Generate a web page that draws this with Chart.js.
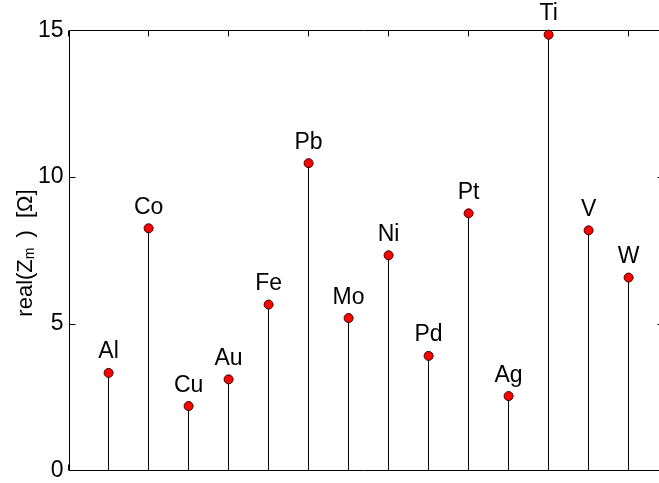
<!DOCTYPE html>
<html>
<head>
<meta charset="utf-8">
<script src="https://cdn.jsdelivr.net/npm/chart.js@4/dist/chart.umd.min.js"></script>
<style>
  html, body { margin: 0; padding: 0; background: #ffffff; overflow: hidden; }
  canvas { display: block; }
</style>
</head>
<body>
<canvas id="c" width="659" height="483"></canvas>
<script>
// Metals and the real part of the measured impedance (ohm)
const metals = ['Al', 'Co', 'Cu', 'Au', 'Fe', 'Pb', 'Mo', 'Ni', 'Pd', 'Pt', 'Ag', 'Ti', 'V', 'W'];
const realZm = [3.32, 8.25, 2.19, 3.10, 5.65, 10.47, 5.19, 7.33, 3.90, 8.76, 2.53, 14.85, 8.18, 6.57];

// Axis ticks
const yTickValues = [0, 5, 10, 15];
const xTickValues = [0, 2, 4, 6, 8, 10, 12, 14];
const xLimits = [0, 14.85];
const yLimits = [0, 15];

const FONT = "'Liberation Sans', Arial, Helvetica, sans-serif";
const TICK_LEN = 6;
// axes box in canvas pixels; its right edge runs just past the canvas
const AXES_BOX = { left: 68.6, top: 30.3, right: 662.6, bottom: 470.3 };

const stemPlot = {
  id: 'stemPlot',
  afterLayout(chart) {
    const b = AXES_BOX;
    const w = b.right - b.left, h = b.bottom - b.top;
    chart.chartArea = { left: b.left, top: b.top, right: b.right, bottom: b.bottom, width: w, height: h };
    const xs = chart.scales.x, ys = chart.scales.y;
    Object.assign(xs, { left: b.left, right: b.right, width: w, top: b.bottom, bottom: b.bottom, height: 0 });
    Object.assign(ys, { left: 0, right: b.left, width: b.left, top: b.top, bottom: b.bottom, height: h });
    xs.configure();
    ys.configure();
  },
  beforeDatasetsDraw(chart) {
    const ctx = chart.ctx;
    const xs = chart.scales.x, ys = chart.scales.y;
    const a = chart.chartArea;
    const L = Math.round(a.left) + 0.5, R = Math.round(a.right) + 0.5;
    const T = Math.round(a.top) + 0.5, B = Math.round(a.bottom) + 0.5;
    ctx.save();
    ctx.strokeStyle = '#000';
    ctx.lineWidth = 1;
    ctx.beginPath();
    // axes box
    ctx.moveTo(L, T); ctx.lineTo(R, T); ctx.lineTo(R, B); ctx.lineTo(L, B); ctx.closePath();
    // y ticks, inward on both sides
    yTickValues.forEach(v => {
      const y = Math.round(ys.getPixelForValue(v)) + 0.5;
      ctx.moveTo(L, y); ctx.lineTo(L + TICK_LEN, y);
      ctx.moveTo(R, y); ctx.lineTo(R - TICK_LEN, y);
    });
    // x ticks, inward on top and bottom
    xTickValues.forEach(v => {
      const x = Math.floor(xs.getPixelForValue(v)) + 0.5;
      ctx.moveTo(x, T); ctx.lineTo(x, T + TICK_LEN);
      ctx.moveTo(x, B); ctx.lineTo(x, B - TICK_LEN);
    });
    // stems
    const y0 = ys.getPixelForValue(0);
    realZm.forEach((v, i) => {
      const x = Math.floor(xs.getPixelForValue(i + 1)) + 0.5;
      ctx.moveTo(x, y0);
      ctx.lineTo(x, ys.getPixelForValue(v));
    });
    ctx.stroke();
    ctx.restore();
  },
  afterDatasetsDraw(chart) {
    const ctx = chart.ctx;
    const xs = chart.scales.x, ys = chart.scales.y;
    ctx.save();
    ctx.fillStyle = '#000';
    ctx.font = '23px ' + FONT;
    ctx.textAlign = 'center';
    ctx.textBaseline = 'alphabetic';
    metals.forEach((m, i) => {
      const x = xs.getPixelForValue(i + 1);
      const y = ys.getPixelForValue(realZm[i]);
      ctx.fillText(m, x, y - 14.5);
    });
    ctx.restore();
  },
  afterDraw(chart) {
    // y axis title: real(Z_m) [Ω]
    const ctx = chart.ctx;
    const parts = [
      { t: 'real(Z', size: 22, dy: 0, gapAfter: 0 },
      { t: 'm', size: 14, dy: 1.5, gapAfter: 10 },
      { t: ')  [\u03A9]', size: 22, dy: 0, gapAfter: 0 }
    ];
    ctx.save();
    let total = 0;
    parts.forEach(p => {
      ctx.font = p.size + 'px ' + FONT;
      p.w = ctx.measureText(p.t).width;
      total += p.w + p.gapAfter;
    });
    ctx.translate(32, 253);
    ctx.rotate(-Math.PI / 2);
    ctx.fillStyle = '#000';
    ctx.textAlign = 'left';
    ctx.textBaseline = 'alphabetic';
    let x = -total / 2;
    parts.forEach(p => {
      ctx.font = p.size + 'px ' + FONT;
      ctx.fillText(p.t, x, p.dy);
      x += p.w + p.gapAfter;
    });
    ctx.restore();
  }
};

new Chart(document.getElementById('c'), {
  type: 'scatter',
  data: {
    datasets: [{
      data: metals.map((m, i) => ({ x: i + 1, y: realZm[i] })),
      pointRadius: 4.5,
      pointHoverRadius: 4.5,
      pointBackgroundColor: '#ff0000',
      pointBorderColor: '#3a0000',
      pointBorderWidth: 1,
      showLine: false,
      clip: false
    }]
  },
  options: {
    responsive: false,
    devicePixelRatio: 1,
    animation: false,
    events: [],
    plugins: { legend: { display: false }, tooltip: { enabled: false } },
    scales: {
      x: {
        type: 'linear',
        display: false,
        min: xLimits[0],
        max: xLimits[1]
      },
      y: {
        type: 'linear',
        min: yLimits[0],
        max: yLimits[1],
        grid: { display: false, drawTicks: false, tickLength: 0 },
        border: { display: false },
        afterBuildTicks(scale) {
          scale.ticks = yTickValues.map(v => ({ value: v }));
        },
        ticks: {
          color: '#000',
          padding: 5,
          font: { family: FONT, size: 23 },
          callback: v => String(v)
        }
      }
    }
  },
  plugins: [stemPlot]
});
</script>
</body>
</html>
